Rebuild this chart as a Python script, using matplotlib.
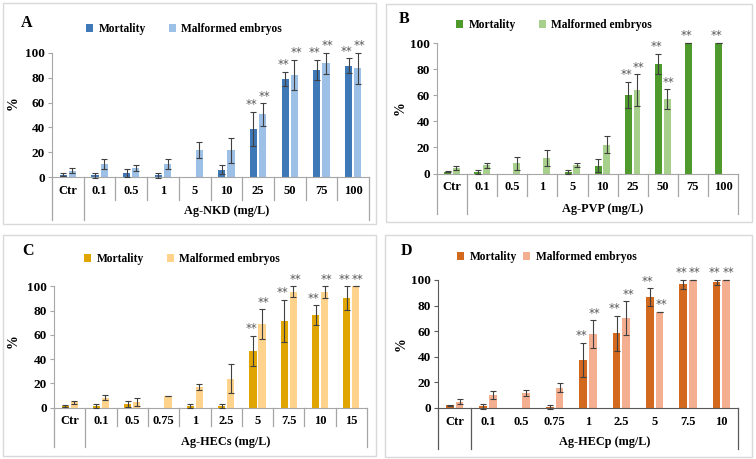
import numpy as np
import matplotlib
matplotlib.use("Agg")
import matplotlib.pyplot as plt
from matplotlib.patches import Rectangle
import matplotlib.transforms as mtransforms

# ---------------- dados ----------------
cats_nkd = ["Ctr", "0.1", "0.5", "1", "5", "10", "25", "50", "75", "100"]
nkd_mort = [2, 1.5, 3.5, 1.5, 0, 6, 38.6, 79, 86.2, 89.7]
nkd_mort_err = [1, 2, 3.3, 2, 0, 3.8, 14, 6, 8, 6]
nkd_malf = [5, 10.3, 7.3, 10.3, 21.9, 21.6, 50.5, 82.4, 91.6, 87.6]
nkd_malf_err = [2, 4, 2.4, 4, 6.7, 10, 9, 12, 8.4, 12.4]
nkd_mort_sig = [0, 0, 0, 0, 0, 0, 1, 1, 1, 1]
nkd_malf_sig = [0, 0, 0, 0, 0, 0, 1, 1, 1, 1]

cats_pvp = ["Ctr", "0.1", "0.5", "1", "5", "10", "25", "50", "75", "100"]
pvp_mort = [1.3, 1.2, 0, 0, 1.3, 6, 60, 84, 100, 100]
pvp_mort_err = [0.5, 1.5, 0, 0, 1.5, 5, 10, 7.7, 0, 0]
pvp_malf = [4.2, 6.2, 8, 11.8, 6.5, 22, 64, 57, 0, 0]
pvp_malf_err = [1.5, 2, 5, 6, 1.5, 6.4, 12, 7.4, 0, 0]
pvp_mort_sig = [0, 0, 0, 0, 0, 0, 1, 1, 1, 1]
pvp_malf_sig = [0, 0, 0, 0, 0, 0, 1, 1, 0, 0]

cats_hecs = ["Ctr", "0.1", "0.5", "0.75", "1", "2.5", "5", "7.5", "10", "15"]
hecs_mort = [1.6, 1.4, 3, 0, 1.4, 1.4, 46.7, 71.4, 76.4, 90.4]
hecs_mort_err = [1, 2, 2.5, 0, 2, 2, 12.4, 17.3, 8, 9.6]
hecs_malf = [4.4, 8.2, 4.7, 10, 17, 24, 68.7, 95.6, 95.3, 100]
hecs_malf_err = [1.5, 2, 3.3, 0, 2.5, 12, 12.4, 4.4, 4.7, 0]
hecs_mort_sig = [0, 0, 0, 0, 0, 0, 1, 1, 1, 1]
hecs_malf_sig = [0, 0, 0, 0, 0, 0, 1, 1, 1, 1]

cats_hecp = ["Ctr", "0.1", "0.5", "0.75", "1", "2.5", "5", "7.5", "10"]
hecp_mort = [2, 1.5, 0, 1, 37.5, 58.3, 86.7, 96.6, 98.2]
hecp_mort_err = [0.5, 2, 0, 1.5, 13.5, 13.5, 6.8, 3.4, 1.8]
hecp_malf = [5, 10.4, 11.7, 16, 57.8, 70.3, 75, 100, 100]
hecp_malf_err = [2, 3, 2, 3.5, 10.7, 13, 0, 0, 0]
hecp_mort_sig = [0, 0, 0, 0, 1, 1, 1, 1, 1]
hecp_malf_sig = [0, 0, 0, 0, 1, 1, 1, 1, 1]

yticks = [0, 20, 40, 60, 80, 100]

W, H = 756, 459
SERIF = "Liberation Serif"

fig = plt.figure(figsize=(W / 100, H / 100), dpi=100)
fig.patch.set_facecolor("white")


def fx(px):
    return px / W


def fy(py):
    return 1 - py / H


def barras_erro(ax, xs, vals, errs):
    # só desenha a barra de erro onde existe barra
    xs = np.asarray(xs)
    vals = np.asarray(vals, dtype=float)
    errs = np.asarray(errs, dtype=float)
    m = vals > 0
    ax.errorbar(xs[m], vals[m], yerr=errs[m], fmt="none", ecolor="#404040",
                elinewidth=0.8, capsize=2.5, capthick=0.8, zorder=3,
                clip_on=False)


def painel(cats, mort, mort_err, malf, malf_err, mort_sig, malf_sig,
           cores, letra, titulo_x, caixa, eixo, pos, leg, separadores=True,
           cor_linha="#A6A6A6", espac_leg=2.0):
    # caixa do painel
    bx0, by0, bx1, by1 = caixa
    fig.add_artist(Rectangle((fx(bx0), fy(by1)), fx(bx1 - bx0), (by1 - by0) / H,
                             transform=fig.transFigure, fill=False,
                             edgecolor="#D9D9D9", lw=1.0))
    x0, x1, y100, y0 = eixo
    ax = fig.add_axes([fx(x0), fy(y0), fx(x1 - x0), (y0 - y100) / H])
    ax.set_facecolor("none")

    n = len(cats)
    x = np.arange(n)
    w = 0.23
    off = 0.145
    b1 = ax.bar(x - off, mort, w, color=cores[0], label="Mortality", zorder=2)
    b2 = ax.bar(x + off, malf, w, color=cores[1], label="Malformed embryos", zorder=2)
    barras_erro(ax, x - off, mort, mort_err)
    barras_erro(ax, x + off, malf, malf_err)

    # asteriscos
    for i in range(n):
        if mort_sig[i]:
            ax.annotate("**", (x[i] - off - 0.06, mort[i] + mort_err[i]),
                        xytext=(0, 0.5), textcoords="offset points",
                        ha="center", va="bottom", fontsize=8.5, color="#595959",
                        annotation_clip=False)
        if malf_sig[i]:
            ax.annotate("**", (x[i] + off + 0.06, malf[i] + malf_err[i]),
                        xytext=(0, 0.5), textcoords="offset points",
                        ha="center", va="bottom", fontsize=8.5, color="#595959",
                        annotation_clip=False)

    ax.set_xlim(-0.5, n - 0.5)
    ax.set_ylim(0, 100)
    ax.set_yticks(yticks)
    ax.set_yticklabels([str(t) for t in yticks], fontfamily=SERIF,
                       fontweight="bold", fontsize=9.5)
    ax.tick_params(axis="y", length=3, color=cor_linha, pad=2)
    ax.set_xticks([])
    for s in ["top", "right"]:
        ax.spines[s].set_visible(False)
    ax.spines["left"].set_color(cor_linha)
    ax.spines["bottom"].set_color("#595959" if not separadores else cor_linha)

    # eixo de categorias em dois níveis
    lab_y, grp_y, curto, longo = pos

    def fa(py):
        return (y0 - py) / (y0 - y100)

    tr = mtransforms.blended_transform_factory(ax.transData, ax.transAxes)
    for k in [-0.5, 0.5, n - 0.5]:
        ax.plot([k, k], [0, fa(longo)], transform=tr, color=cor_linha,
                lw=0.9, clip_on=False)
    if separadores:
        for k in np.arange(1.5, n - 1, 1.0):
            ax.plot([k, k], [0, fa(curto)], transform=tr, color=cor_linha,
                    lw=0.9, clip_on=False)
    for i, c in enumerate(cats):
        ax.text(i, fa(lab_y), c, transform=tr, ha="center", va="center",
                fontfamily=SERIF, fontweight="bold", fontsize=9)
    ax.text((n - 0.5 + 0.5) / 2, fa(grp_y), titulo_x, transform=tr,
            ha="center", va="center", fontfamily=SERIF, fontweight="bold",
            fontsize=8.8)

    # rótulo do eixo y e letra do painel
    lx, ly, px_, py_ = leg[2], leg[3], leg[4], leg[5]
    fig.text(fx(px_), fy(py_), "%", rotation=90, ha="center", va="center",
             fontfamily=SERIF, fontweight="bold", fontsize=10)
    fig.text(fx(lx), fy(ly), letra, ha="center", va="center",
             fontfamily=SERIF, fontweight="bold", fontsize=11.5)

    ax.legend(handles=[b1, b2], loc="center", ncol=2, frameon=False,
              bbox_to_anchor=(fx(leg[0]), fy(leg[1])),
              bbox_transform=fig.transFigure,
              prop={"family": SERIF, "weight": "bold", "size": 8.3},
              handlelength=0.6, handleheight=0.6, handletextpad=0.5,
              columnspacing=espac_leg, borderpad=0)
    return ax


painel(cats_nkd, nkd_mort, nkd_mort_err, nkd_malf, nkd_malf_err,
       nkd_mort_sig, nkd_malf_sig, ("#3F78B6", "#9DC0E6"), "A",
       "Ag-NKD (mg/L)", (3, 3, 376, 224), (52, 369, 53, 177),
       (191, 211, 200, 220), (184, 29, 27, 23, 13, 103))

painel(cats_pvp, pvp_mort, pvp_mort_err, pvp_malf, pvp_malf_err,
       pvp_mort_sig, pvp_malf_sig, ("#4E9A2C", "#A8D08D"), "B",
       "Ag-PVP (mg/L)", (386, 4, 752, 222), (437, 738, 43, 173.5),
       (187, 209, 196, 214), (554, 25, 404, 19, 400, 108))

painel(cats_hecs, hecs_mort, hecs_mort_err, hecs_malf, hecs_malf_err,
       hecs_mort_sig, hecs_malf_sig, ("#E0A500", "#FFD38C"), "C",
       "Ag-HECs (mg/L)", (3, 235, 376, 456), (54, 367, 286.3, 407.7),
       (421, 442, 426, 447), (182, 259, 28, 251, 13, 341))

painel(cats_hecp, hecp_mort, hecp_mort_err, hecp_malf, hecp_malf_err,
       hecp_mort_sig, hecp_malf_sig, ("#D2691E", "#F4AE90"), "D",
       "Ag-HECp (mg/L)", (385, 235, 752, 457), (438, 738, 280, 408),
       (422, 442, 430, 449), (547, 257, 406, 251, 401, 344),
       separadores=False, cor_linha="#595959", espac_leg=0.5)

fig.savefig("out.png", dpi=100, facecolor="white")
